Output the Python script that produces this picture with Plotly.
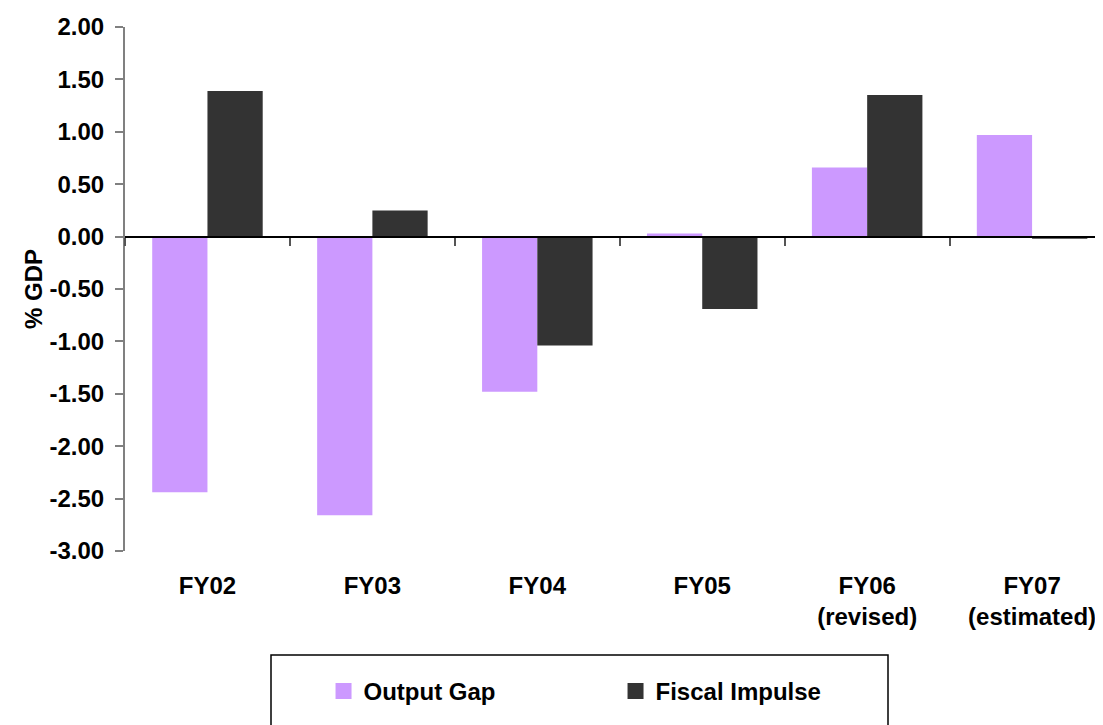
import plotly.graph_objects as go

# данные с картинки
years = ["FY02", "FY03", "FY04", "FY05", "FY06<br>(revised)", "FY07<br>(estimated)"]
output_gap = [-2.44, -2.66, -1.48, 0.03, 0.66, 0.97]
fiscal_impulse = [1.39, 0.25, -1.04, -0.69, 1.35, -0.02]
y_ticks = [2.0, 1.5, 1.0, 0.5, 0.0, -0.5, -1.0, -1.5, -2.0, -2.5, -3.0]
y_ticktext = ["2.00", "1.50", "1.00", "0.50", "0.00", "-0.50", "-1.00",
              "-1.50", "-2.00", "-2.50", "-3.00"]

COLORS = {
    "output_gap": "#CC99FF",
    "fiscal": "#333333",
    "axis": "#808080",
}
FONT = dict(family="Liberation Sans, Arial, sans-serif", size=24, color="black", weight="bold")

fig = go.Figure()
fig.add_trace(go.Bar(x=years, y=output_gap, name="Output Gap", showlegend=False,
                     marker_color=COLORS["output_gap"], marker_line_width=0))
fig.add_trace(go.Bar(x=years, y=fiscal_impulse, name="Fiscal Impulse", showlegend=False,
                     marker_color=COLORS["fiscal"], marker_line_width=0))
# квадратные значки для легенды
for name, col in [("Output Gap", COLORS["output_gap"]), ("Fiscal Impulse", COLORS["fiscal"])]:
    fig.add_trace(go.Scatter(x=[None], y=[None], name=name, mode="markers",
                             marker=dict(symbol="square", size=18, color=col)))
# пустой трейс, чтобы нарисовать ось с засечками по линии нуля
fig.add_trace(go.Scatter(x=[None], y=[None], xaxis="x2", showlegend=False, hoverinfo="skip"))

# страница браузера даёт отступ 8px у body, поэтому фигура чуть меньше окна
x_range = [-0.5, 5.43]
fig.update_layout(
    width=1095, height=717,
    margin=dict(l=117, r=0, t=19, b=174, autoexpand=False),
    plot_bgcolor="white", paper_bgcolor="white",
    font=FONT,
    barmode="group", bargap=0.33, bargroupgap=0,
    xaxis=dict(range=x_range, showline=False, showgrid=False, zeroline=False, automargin=False,
               ticks="", ticklabelstandoff=18, tickfont=FONT),
    xaxis2=dict(type="linear", range=x_range, overlaying="x", anchor="free", position=0.6,
                side="bottom", showline=True, linecolor="black", linewidth=2,
                ticks="outside", ticklen=8, tickwidth=2, tickcolor="#555555",
                tickvals=[-0.5, 0.5, 1.5, 2.5, 3.5, 4.5],
                showticklabels=False, showgrid=False, zeroline=False),
    yaxis=dict(range=[-3, 2], tickvals=y_ticks, ticktext=y_ticktext,
               showgrid=False, zeroline=False, automargin=False,
               showline=True, linecolor=COLORS["axis"], linewidth=2,
               ticks="outside", ticklen=8, tickcolor=COLORS["axis"], tickwidth=2,
               ticklabelstandoff=6, tickfont=FONT,
               title=dict(text="% GDP", font=FONT, standoff=0)),
    showlegend=True,
    legend=dict(orientation="h", x=0.203, y=-0.268, xanchor="left", yanchor="middle",
                font=FONT, entrywidth=247, bgcolor="rgba(0,0,0,0)", borderwidth=0),
    shapes=[dict(type="rect", xref="paper", yref="paper",
                 x0=(271 - 125) / 978, x1=(888 - 125) / 978,
                 y0=-(655 - 551) / 524, y1=-0.45,
                 line=dict(color="black", width=1.5), fillcolor="rgba(0,0,0,0)")],
)

fig.write_html("out.html")
